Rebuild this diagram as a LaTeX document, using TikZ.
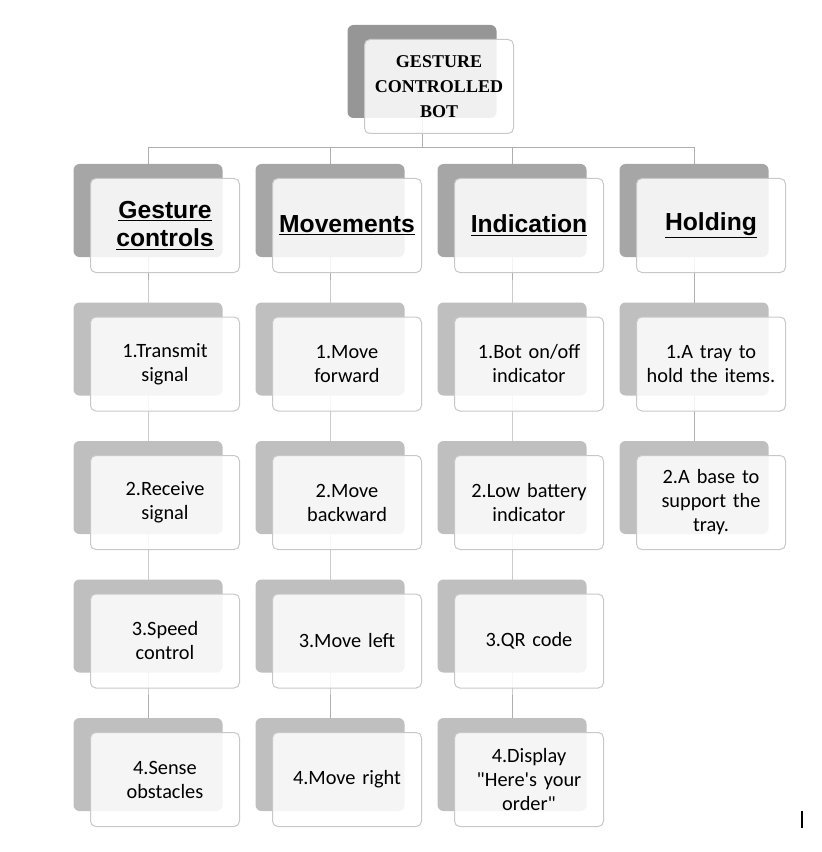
\documentclass[tikz,border=0pt]{standalone}
\usepackage{fontspec}
\setmainfont{Carlito}
\newfontfamily\headfont{Liberation Sans}
\newfontfamily\titlefont{Liberation Serif}
\usepackage{xcolor}
\usepackage{tikz}
\usetikzlibrary{backgrounds}

\definecolor{topgray}{RGB}{150,150,150}
\definecolor{headgray}{RGB}{166,166,166}
\definecolor{rowgray}{RGB}{191,191,191}
\definecolor{edgegray}{RGB}{200,200,200}
\definecolor{linegray}{RGB}{175,175,175}

\newcommand\headline[1]{\underline{#1}}

\tikzset{
	shadowbox/.style={rounded corners=4.5pt, minimum width=111.75pt, minimum height=69.75pt, inner sep=0pt},
	frontbox/.style={draw=edgegray, line width=0.75pt, fill=white, fill opacity=0.86, text opacity=1,
		rounded corners=4pt, minimum width=111.75pt, minimum height=70.5pt, text width=108pt,
		align=center, inner sep=0pt, xshift=12.75pt, yshift=-11.25pt},
	titletext/.style={font=\titlefont\bfseries\fontsize{13.5}{19}\selectfont},
	headtext/.style={font=\headfont\bfseries\fontsize{18.5}{21.5}\selectfont},
	bodytext/.style={font=\fontsize{15.25}{18}\selectfont},
	conn/.style={draw=linegray, line width=0.75pt},
}

\begin{document}
\begin{tikzpicture}[x=0.75pt,y=-0.75pt]
\useasboundingbox (0,0) rectangle (821,852);

% title
\node[shadowbox, fill=topgray] (bots) at (422,71.5) {};
\node[frontbox, titletext] (bot) at (bots) {GESTURE\\CONTROLLED\\BOT};

% headers
\foreach \n/\x/\t in {gest/148/{\headline{Gesture}\\\headline{controls}},
		move/330/{\headline{Movements}}, ind/512/{\headline{Indication}},
		hold/694/{\headline{Holding}}}{
	\node[shadowbox, fill=headgray] (\n s) at (\x,210.5) {};
	\node[frontbox, headtext] (\n) at (\n s) {\t};
}

% items
\foreach \n/\x/\r/\t in {gest/148/1/{1.Transmit\\signal}, gest/148/2/{2.Receive\\signal},
		gest/148/3/{3.Speed\\control}, gest/148/4/{4.Sense\\obstacles},
		move/330/1/{1.Move\\forward}, move/330/2/{2.Move\\backward},
		move/330/3/{3.Move left}, move/330/4/{4.Move right},
		ind/512/1/{1.Bot on/off\\indicator}, ind/512/2/{2.Low battery\\indicator},
		ind/512/3/{3.QR code}, ind/512/4/{4.Display\\\textquotedbl Here\textquotesingle s your\\order\textquotedbl},
		hold/694/1/{1.A tray to\\hold the items.}, hold/694/2/{2.A base to\\support the\\tray.}}{
	\node[shadowbox, fill=rowgray] (\n\r s) at (\x,{210.5+138.5*\r}) {};
	\node[frontbox, bodytext] (\n\r) at (\n\r s) {\t};
}

% connectors
\begin{pgfonlayer}{background}
\foreach \n in {gest,move,ind,hold}{
	\draw[conn] (bots.center) -- ++(0,76.5) -| (\n s.center);
}
\draw[conn] (gests.center) -- (gest1s.center) -- (gest2s.center) -- (gest3s.center) -- (gest4s.center);
\draw[conn] (moves.center) -- (move1s.center) -- (move2s.center) -- (move3s.center) -- (move4s.center);
\draw[conn] (inds.center) -- (ind1s.center) -- (ind2s.center) -- (ind3s.center) -- (ind4s.center);
\draw[conn] (holds.center) -- (hold1s.center) -- (hold2s.center);
\end{pgfonlayer}

\draw[line width=1.1pt] (802,811) -- (802,828);

\end{tikzpicture}
\end{document}
